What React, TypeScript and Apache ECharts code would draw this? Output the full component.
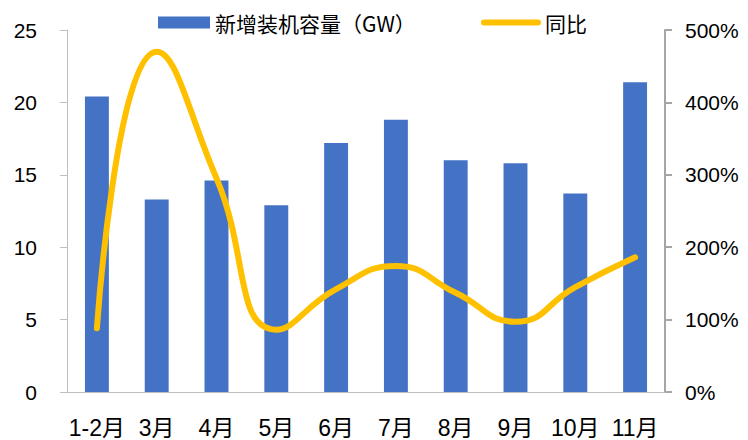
import React, { useEffect, useRef } from "react";
import * as echarts from "echarts";

const categories = ["1-2月", "3月", "4月", "5月", "6月", "7月", "8月", "9月", "10月", "11月"];
const capacity = [20.4, 13.3, 14.6, 12.9, 17.2, 18.8, 16.0, 15.8, 13.7, 21.4];
const yoy = [88, 470, 295, 86, 142, 174, 137, 97, 145, 186];
const leftTicks = { min: 0, max: 25, interval: 5 };
const rightTicks = { min: 0, max: 500, interval: 100 };

const FONT = "'Liberation Sans', Arial, 'Noto Sans CJK SC', sans-serif";
const LEGEND_FONT = "'Noto Sans CJK SC', 'Liberation Sans', sans-serif";

export default function App() {
  const ref = useRef<HTMLDivElement>(null);
  useEffect(() => {
    document.body.style.margin = "0";
    const chart = echarts.init(ref.current!, null, { renderer: "svg" });
    chart.setOption({
      animation: false,
      textStyle: { fontFamily: FONT },
      legend: [
        {
          left: 158,
          top: 12,
          padding: 0,
          itemWidth: 52,
          itemHeight: 12,
          textStyle: { fontSize: 21, color: "#000", fontFamily: LEGEND_FONT },
          data: [{ name: "新增装机容量（GW）", icon: "rect" }],
        },
        {
          left: 481,
          top: 12,
          padding: 0,
          itemWidth: 54,
          itemHeight: 12,
          itemGap: 0,
          textStyle: { fontSize: 21, color: "#000", fontFamily: LEGEND_FONT, padding: [0, 0, 0, 2] },
          data: [{ name: "同比" }],
          itemStyle: { opacity: 0 },
          lineStyle: { width: 6, cap: "round", color: "#FFC000" },
        },
      ],
      grid: { left: 67, right: 83, top: 30, bottom: 48 },
      xAxis: {
        type: "category",
        data: categories,
        axisLine: { lineStyle: { color: "#BFBFBF", width: 1 } },
        axisTick: { show: false },
        axisLabel: { fontSize: 23, color: "#000", margin: 24, interval: 0 },
      },
      yAxis: [
        {
          type: "value",
          ...leftTicks,
          axisLine: { show: true, lineStyle: { color: "#BFBFBF", width: 1 } },
          axisTick: { show: true, length: 7, lineStyle: { color: "#BFBFBF" } },
          splitLine: { show: false },
          axisLabel: { fontSize: 21, color: "#000", margin: 30, align: "right" },
        },
        {
          type: "value",
          ...rightTicks,
          position: "right",
          axisLine: { show: true, lineStyle: { color: "#A6A6A6", width: 2 } },
          axisTick: { show: true, length: 7, lineStyle: { color: "#A6A6A6", width: 2 } },
          splitLine: { show: false },
          axisLabel: { fontSize: 21, color: "#000", margin: 20, align: "left", formatter: "{value}%" },
        },
      ],
      series: [
        {
          name: "新增装机容量（GW）",
          type: "bar",
          data: capacity,
          barWidth: "40%",
          itemStyle: { color: "#4472C4" },
        },
        {
          name: "同比",
          type: "line",
          yAxisIndex: 1,
          data: yoy,
          smooth: 0.5,
          symbol: "none",
          lineStyle: { color: "#FFC000", width: 6, cap: "round" },
          itemStyle: { color: "#FFC000" },
        },
      ],
    });
    return () => chart.dispose();
  }, []);
  return <div ref={ref} style={{ width: 748, height: 440 }} />;
}
